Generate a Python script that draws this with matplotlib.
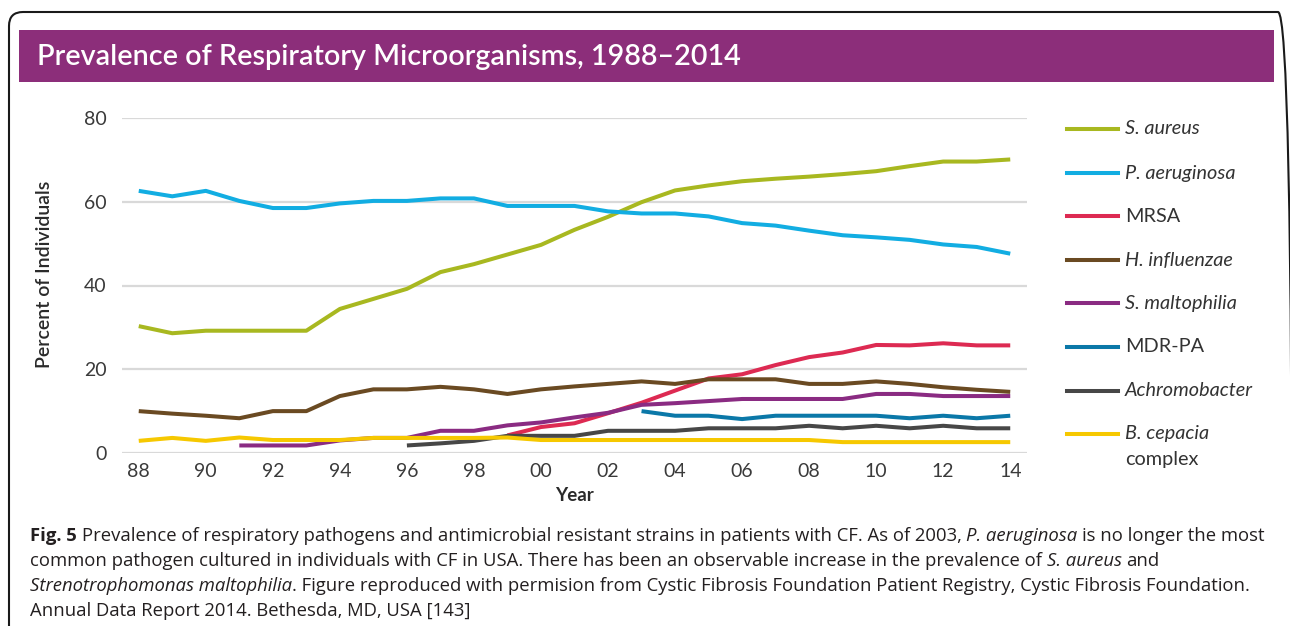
import numpy as np
import matplotlib
matplotlib.use('Agg')
import matplotlib.pyplot as plt
from matplotlib.font_manager import FontProperties
from matplotlib.lines import Line2D
from matplotlib.patches import Rectangle, FancyBboxPatch
from matplotlib.transforms import IdentityTransform

nan = np.nan

# data (percent of individuals)
years = list(range(1988, 2015))
year_ticks = list(range(1988, 2015, 2))
year_labels = ['88', '90', '92', '94', '96', '98', '00', '02', '04', '06', '08', '10', '12', '14']
y_ticks = [0, 20, 40, 60, 80]

s_aureus = [30.3, 28.6, 29.2, 29.2, 29.2, 29.2, 34.4, 36.8, 39.2, 43.2, 45.1, 47.4, 49.7, 53.3,
            56.4, 59.9, 62.7, 63.9, 64.9, 65.5, 66.0, 66.6, 67.3, 68.5, 69.6, 69.6, 70.1]
p_aeruginosa = [62.6, 61.3, 62.6, 60.2, 58.5, 58.5, 59.6, 60.2, 60.2, 60.8, 60.8, 59.0, 59.0, 59.0,
                57.7, 57.2, 57.2, 56.5, 54.9, 54.3, 53.1, 52.0, 51.5, 50.9, 49.8, 49.2, 47.6]
mrsa = [nan, nan, nan, nan, nan, nan, nan, nan, nan, nan, nan, 4.2, 6.2, 7.1,
        9.5, 12.0, 14.9, 17.8, 18.8, 21.0, 22.9, 24.0, 25.8, 25.7, 26.2, 25.7, 25.7]
h_influenzae = [10.0, 9.4, 8.9, 8.3, 10.0, 10.0, 13.6, 15.2, 15.2, 15.8, 15.2, 14.1, 15.2, 15.9,
                16.5, 17.1, 16.5, 17.6, 17.6, 17.6, 16.5, 16.5, 17.1, 16.5, 15.7, 15.1, 14.6]
s_maltophilia = [nan, nan, nan, 1.8, 1.8, 1.8, 3.0, 3.6, 3.6, 5.3, 5.3, 6.6, 7.3, 8.5,
                 9.6, 11.5, 11.9, 12.4, 12.9, 12.9, 12.9, 12.9, 14.1, 14.1, 13.6, 13.6, 13.6]
mdr_pa = [nan, nan, nan, nan, nan, nan, nan, nan, nan, nan, nan, nan, nan, nan,
          nan, 10.0, 8.9, 8.9, 8.1, 8.9, 8.9, 8.9, 8.9, 8.3, 8.9, 8.3, 8.9]
achromobacter = [nan, nan, nan, nan, nan, nan, nan, nan, 1.8, 2.3, 2.9, 4.1, 4.1, 4.1,
                 5.3, 5.3, 5.3, 5.9, 5.9, 5.9, 6.5, 5.9, 6.5, 5.9, 6.5, 5.9, 5.9]
b_cepacia = [2.9, 3.6, 2.9, 3.7, 3.1, 3.1, 3.1, 3.6, 3.6, 3.6, 3.6, 3.7, 3.1, 3.1,
             3.1, 3.1, 3.1, 3.1, 3.1, 3.1, 3.1, 2.6, 2.6, 2.6, 2.6, 2.6, 2.6]

series = [
    ('S. aureus', s_aureus, '#a8b820', 'italic'),
    ('P. aeruginosa', p_aeruginosa, '#12ade2', 'italic'),
    ('MRSA', mrsa, '#dd2a52', 'normal'),
    ('H. influenzae', h_influenzae, '#6a4a22', 'italic'),
    ('S. maltophilia', s_maltophilia, '#8a2b82', 'italic'),
    ('MDR-PA', mdr_pa, '#0b78a8', 'normal'),
    ('Achromobacter', achromobacter, '#474747', 'italic'),
    ('B. cepacia', b_cepacia, '#f6c800', 'italic'),
]

W, H = 1290, 626
fig = plt.figure(figsize=(W / 100, H / 100), dpi=100)
px = IdentityTransform()  # pixel coords, origin bottom left

# rounded frame (right side runs off the image) and title banner
fig.add_artist(FancyBboxPatch((9, -30), 1283, H - 12 + 30,
                              boxstyle='round,pad=0,rounding_size=14',
                              transform=px, fill=False, ec='#1a1a1a', lw=1.5))
fig.add_artist(Rectangle((19, H - 82), 1255, 52, transform=px, fc='#8c2e7a', ec='none'))
fig.text(37, H - 57, 'Prevalence of Respiratory Microorganisms, 1988\u20132014', transform=px,
         color='white', fontsize=20.7, fontfamily='Lato', fontweight='semibold', va='center')

ax = fig.add_axes([122 / W, 1 - 453 / H, (1027 - 122) / W, (453 - 118) / H])
# draw order so the small series sit on top like the original
order = [0, 1, 3, 2, 4, 5, 6, 7]
for i in order:
    name, vals, col, _ = series[i]
    ax.plot(years, vals, color=col, lw=2.9, solid_capstyle='butt', clip_on=False, zorder=3 + i * 0.1)

ax.set_xlim(1987.5, 2014.5)
ax.set_ylim(0, 80)
ax.set_yticks(y_ticks)
ax.set_xticks(year_ticks)
ax.set_xticklabels(year_labels)
ax.grid(axis='y', color='#d9d9d9', lw=1.6)
ax.set_axisbelow(True)
for s in ax.spines.values():
    s.set_visible(False)
ax.tick_params(axis='y', length=0, pad=11, labelsize=14, labelcolor='#3a3a3a')
ax.tick_params(axis='x', length=0, pad=7, labelsize=14, labelcolor='#3a3a3a')
for lab in ax.get_xticklabels() + ax.get_yticklabels():
    lab.set_fontfamily('Lato')
ax.set_xlabel('Year', fontsize=13.5, fontfamily='Lato', fontweight='bold', color='#2a2a2a', labelpad=5)
fig.text(45, H - 274, 'Percent of Individuals', transform=px, rotation=90, ha='center', va='center',
         fontsize=14, fontfamily='Lato', fontweight='semibold', color='#2a2a2a')

# legend drawn by hand
leg_y = [129, 173, 216, 260, 303, 347, 391, 434]
for (name, vals, col, style), yy in zip(series, leg_y):
    fig.add_artist(Line2D([1067, 1118], [H - yy, H - yy], transform=px, color=col, lw=2.9))
    fig.text(1125, H - yy, name, transform=px, va='center', fontsize=14.3, fontfamily='Lato',
             fontstyle=style, color='#333333')
fig.text(1125, H - 459, 'complex', transform=px, va='center', fontsize=14.3, fontfamily='Lato',
         color='#333333')

# caption with mixed bold / italic runs
renderer = fig.canvas.get_renderer()


def fp(style, size):
    return FontProperties(family='Open Sans', size=size,
                          weight='bold' if style == 'b' else 'normal',
                          style='italic' if style == 'i' else 'normal')


def run_width(text, prop):
    w1 = renderer.get_text_width_height_descent('|' + text + '|', prop, ismath=False)[0]
    w0 = renderer.get_text_width_height_descent('||', prop, ismath=False)[0]
    return w1 - w0


caption = [
    [('Fig. 5', 'b'), (' Prevalence of respiratory pathogens and antimicrobial resistant strains in patients with CF. As of 2003, ', 'n'),
     ('P. aeruginosa', 'i'), (' is no longer the most', 'n')],
    [('common pathogen cultured in individuals with CF in USA. There has been an observable increase in the prevalence of ', 'n'),
     ('S. aureus', 'i'), (' and', 'n')],
    [('Strenotrophomonas maltophilia', 'i'),
     ('. Figure reproduced with permision from Cystic Fibrosis Foundation Patient Registry, Cystic Fibrosis Foundation.', 'n')],
    [('Annual Data Report 2014. Bethesda, MD, USA [143]', 'n')],
]

x0, x1 = 30, 1256
w12 = sum(run_width(t, fp(s, 12)) for t, s in caption[0])
cap_size = 12 * (x1 - x0) / w12
baselines = [541, 566, 591, 615.5]
for line, yb in zip(caption, baselines):
    x = x0
    for text, style in line:
        prop = fp(style, cap_size)
        stripped = text.strip()
        lead = len(text) - len(text.lstrip())
        x += run_width(' ' * lead, prop)
        fig.text(x, H - yb, stripped, transform=px, fontproperties=prop, va='baseline', color='#231f20')
        x += run_width(text.lstrip(), prop)

fig.savefig('out.png', dpi=100)
